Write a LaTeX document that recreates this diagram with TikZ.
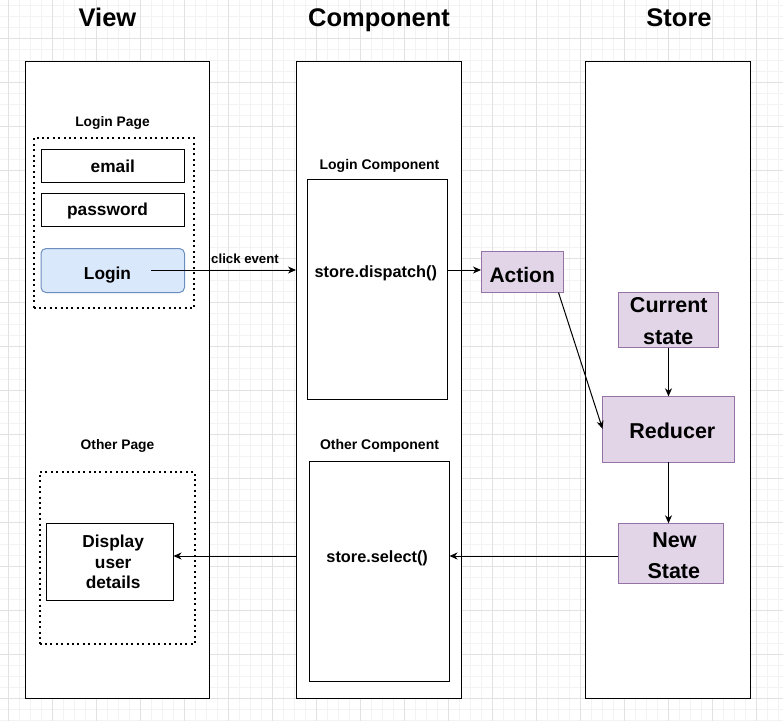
\documentclass[tikz,border=0pt]{standalone}
\usepackage{fontspec}
\setmainfont{Liberation Sans}
\usetikzlibrary{arrows.meta,calc}
\definecolor{gridminor}{HTML}{F3F3F3}
\definecolor{gridmajor}{HTML}{E2E2E2}
\definecolor{btnfill}{HTML}{DAE8FC}
\definecolor{btnline}{HTML}{6C8EBF}
\definecolor{purfill}{HTML}{E1D5E7}
\definecolor{purline}{HTML}{9673A6}
\newcommand{\fsz}[1]{\fontsize{#1}{#1}\selectfont\bfseries}
\tikzset{
  boxsty/.style={draw=black, line width=1pt, fill=white, inner sep=0pt, outer sep=0pt, anchor=north west},
  dotbox/.style={draw=black, line width=2pt, dash pattern=on 2pt off 3.4pt, inner sep=0pt, outer sep=0pt, anchor=north west},
  btnsty/.style={boxsty, fill=btnfill, draw=btnline, rounded corners=5pt},
  pursty/.style={boxsty, fill=purfill, draw=purline},
  txt/.style={inner sep=0pt, outer sep=0pt, anchor=base},
  arr/.style={line width=1pt, -{Stealth[length=8pt,width=7pt,inset=2.5pt]}}
}
\begin{document}
\begin{tikzpicture}[x=1pt,y=-1pt]
\useasboundingbox (0,0) rectangle (783,721);
\fill[white] (0,0) rectangle (783,721);
% grid
\foreach \gx in {-3,8,...,790} \draw[gridminor, line width=0.8pt] (\gx,0) -- (\gx,721);
\foreach \gy in {5,16,...,725} \draw[gridminor, line width=0.8pt] (0,\gy) -- (783,\gy);
\foreach \gx in {8,52,...,790} \draw[gridmajor, line width=1pt] (\gx,0) -- (\gx,721);
\foreach \gy in {38,82,...,725} \draw[gridmajor, line width=1pt] (0,\gy) -- (783,\gy);

% titles
\node[txt] (tview) at (107.5,26) {\fsz{25.5}View};
\node[txt] (tcomp) at (379,26) {\fsz{25.5}Component};
\node[txt] (tstore) at (679,26) {\fsz{25.5}Store};

% lanes
\node[boxsty, minimum width=184pt, minimum height=637pt] (viewlane) at (25,61) {};
\node[boxsty, minimum width=165pt, minimum height=637pt] (complane) at (296,61) {};
\node[boxsty, minimum width=165pt, minimum height=637pt] (storelane) at (585.5,61) {};

% view lane
\node[txt] (loginpagelbl) at (112.5,126) {\fsz{13.8}Login Page};
\node[dotbox, minimum width=160.5pt, minimum height=170pt] (loginpage) at (33.5,138) {};
\node[boxsty, minimum width=143.5pt, minimum height=33pt] (email) at (41,149.5) {};
\node[txt] (emailtxt) at (112.8,172.3) {\fsz{17.3}email};
\node[boxsty, minimum width=143.5pt, minimum height=33pt] (password) at (41,193.5) {};
\node[txt] (passwordtxt) at (107.5,215.7) {\fsz{17.3}password};
\node[btnsty, minimum width=143.5pt, minimum height=44pt] (loginbtn) at (41,248.5) {};
\node[txt] (logintxt) at (107.5,279) {\fsz{17.3}Login};

\node[txt] (otherpagelbl) at (117.5,449) {\fsz{13.8}Other Page};
\node[dotbox, minimum width=155.5pt, minimum height=172pt] (otherpage) at (39.5,472) {};
\node[boxsty, minimum width=127pt, minimum height=77pt] (display) at (46.5,523.5) {};
\node[txt] (disp1) at (113.2,547.3) {\fsz{17.3}Display};
\node[txt] (disp2) at (113.2,568) {\fsz{17.3}user};
\node[txt] (disp3) at (113.2,588.5) {\fsz{17.3}details};

% component lane
\node[txt] (logincomplbl) at (379.5,169.3) {\fsz{14}Login Component};
\node[boxsty, minimum width=140.5pt, minimum height=220.5pt] (logincomp) at (307.3,179.3) {};
\node[txt] (dispatchtxt) at (375.8,277.3) {\fsz{16.3}store.dispatch()};
\node[txt] (othercomplbl) at (379.5,449.3) {\fsz{14}Other Component};
\node[boxsty, minimum width=140.5pt, minimum height=220pt] (othercomp) at (309,461.7) {};
\node[txt] (selecttxt) at (377.2,562.7) {\fsz{16.3}store.select()};

% store lane
\node[pursty, minimum width=82.5pt, minimum height=41.5pt] (action) at (481,251) {};
\node[txt] (actiontxt) at (522.2,282.3) {\fsz{21}Action};
\node[pursty, minimum width=100pt, minimum height=55.5pt] (current) at (618.5,292) {};
\node[txt] (cur1) at (668.8,312.7) {\fsz{21.5}Current};
\node[txt] (cur2) at (668.3,344.3) {\fsz{21.5}state};
\node[pursty, minimum width=132pt, minimum height=66pt] (reducer) at (602.5,396.3) {};
\node[txt] (reducertxt) at (672.3,438.3) {\fsz{21.5}Reducer};
\node[pursty, minimum width=105.5pt, minimum height=60pt] (newstate) at (618.3,523.3) {};
\node[txt] (new1) at (674.5,547.3) {\fsz{21.5}New};
\node[txt] (new2) at (673.8,578.3) {\fsz{21.5}State};

% connectors
\coordinate (clickstart) at (151,270);
\coordinate (selecty) at (0,556);
\draw[arr] (clickstart) -- (clickstart -| complane.west);
\node[txt] (clicklbl) at (245,263.3) {\fsz{13.2}click event};
\draw[arr] (logincomp.east |- clickstart) -- (action.west |- clickstart);
\draw[arr] ($(action.south east)+(-5,0)$) -- ([yshift=0.5pt]reducer.west);
\draw[arr] (current.south) -- (reducer.north);
\draw[arr] (reducer.south) -- (reducer.south |- newstate.north);
\draw[arr] (newstate.west |- selecty) -- (othercomp.east |- selecty);
\draw[arr] (complane.west |- selecty) -- (display.east |- selecty);
\end{tikzpicture}
\end{document}
